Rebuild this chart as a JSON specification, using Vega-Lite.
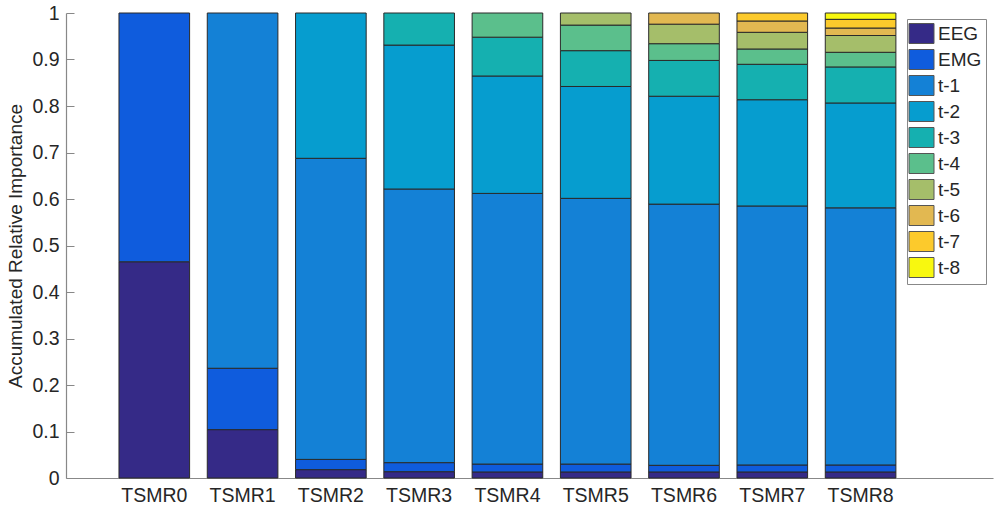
{
  "$schema": "https://vega.github.io/schema/vega-lite/v6.json",
  "width": 927,
  "height": 465,
  "autosize": {"type": "none"},
  "padding": {"left": 66, "top": 13, "right": 6, "bottom": 31},
  "background": "white",
  "data": {
    "values": [
      {"model": "TSMR0", "feature": "EEG", "importance": 0.465},
      {"model": "TSMR0", "feature": "EMG", "importance": 0.535},
      {"model": "TSMR1", "feature": "EEG", "importance": 0.104},
      {"model": "TSMR1", "feature": "EMG", "importance": 0.132},
      {"model": "TSMR1", "feature": "t-1", "importance": 0.764},
      {"model": "TSMR2", "feature": "EEG", "importance": 0.018},
      {"model": "TSMR2", "feature": "EMG", "importance": 0.022},
      {"model": "TSMR2", "feature": "t-1", "importance": 0.6475},
      {"model": "TSMR2", "feature": "t-2", "importance": 0.3125},
      {"model": "TSMR3", "feature": "EEG", "importance": 0.0136},
      {"model": "TSMR3", "feature": "EMG", "importance": 0.0194},
      {"model": "TSMR3", "feature": "t-1", "importance": 0.5885},
      {"model": "TSMR3", "feature": "t-2", "importance": 0.3095},
      {"model": "TSMR3", "feature": "t-3", "importance": 0.069},
      {"model": "TSMR4", "feature": "EEG", "importance": 0.013},
      {"model": "TSMR4", "feature": "EMG", "importance": 0.017},
      {"model": "TSMR4", "feature": "t-1", "importance": 0.582},
      {"model": "TSMR4", "feature": "t-2", "importance": 0.2525},
      {"model": "TSMR4", "feature": "t-3", "importance": 0.0835},
      {"model": "TSMR4", "feature": "t-4", "importance": 0.052},
      {"model": "TSMR5", "feature": "EEG", "importance": 0.013},
      {"model": "TSMR5", "feature": "EMG", "importance": 0.017},
      {"model": "TSMR5", "feature": "t-1", "importance": 0.5714},
      {"model": "TSMR5", "feature": "t-2", "importance": 0.2406},
      {"model": "TSMR5", "feature": "t-3", "importance": 0.077},
      {"model": "TSMR5", "feature": "t-4", "importance": 0.055},
      {"model": "TSMR5", "feature": "t-5", "importance": 0.026},
      {"model": "TSMR6", "feature": "EEG", "importance": 0.013},
      {"model": "TSMR6", "feature": "EMG", "importance": 0.0143},
      {"model": "TSMR6", "feature": "t-1", "importance": 0.5617},
      {"model": "TSMR6", "feature": "t-2", "importance": 0.232},
      {"model": "TSMR6", "feature": "t-3", "importance": 0.077},
      {"model": "TSMR6", "feature": "t-4", "importance": 0.036},
      {"model": "TSMR6", "feature": "t-5", "importance": 0.042},
      {"model": "TSMR6", "feature": "t-6", "importance": 0.024},
      {"model": "TSMR7", "feature": "EEG", "importance": 0.013},
      {"model": "TSMR7", "feature": "EMG", "importance": 0.015},
      {"model": "TSMR7", "feature": "t-1", "importance": 0.557},
      {"model": "TSMR7", "feature": "t-2", "importance": 0.2285},
      {"model": "TSMR7", "feature": "t-3", "importance": 0.0762},
      {"model": "TSMR7", "feature": "t-4", "importance": 0.0329},
      {"model": "TSMR7", "feature": "t-5", "importance": 0.0359},
      {"model": "TSMR7", "feature": "t-6", "importance": 0.0243},
      {"model": "TSMR7", "feature": "t-7", "importance": 0.0172},
      {"model": "TSMR8", "feature": "EEG", "importance": 0.013},
      {"model": "TSMR8", "feature": "EMG", "importance": 0.015},
      {"model": "TSMR8", "feature": "t-1", "importance": 0.553},
      {"model": "TSMR8", "feature": "t-2", "importance": 0.2255},
      {"model": "TSMR8", "feature": "t-3", "importance": 0.0775},
      {"model": "TSMR8", "feature": "t-4", "importance": 0.0315},
      {"model": "TSMR8", "feature": "t-5", "importance": 0.0361},
      {"model": "TSMR8", "feature": "t-6", "importance": 0.0161},
      {"model": "TSMR8", "feature": "t-7", "importance": 0.0187},
      {"model": "TSMR8", "feature": "t-8", "importance": 0.0136}
    ]
  },
  "mark": {"type": "bar", "stroke": "#2a2a2a", "strokeWidth": 1},
  "encoding": {
    "x": {
      "field": "model",
      "type": "nominal",
      "scale": {"paddingInner": 0.2, "paddingOuter": 0.85, "align": 0.353},
      "axis": {
        "title": null,
        "labelAngle": 0,
        "ticks": false,
        "labelPadding": 8,
        "labelFontSize": 19.5,
        "labelFont": "Liberation Sans",
        "labelColor": "#262626",
        "domainColor": "#888888",
        "domainWidth": 1.2
      }
    },
    "y": {
      "field": "importance",
      "type": "quantitative",
      "stack": "zero",
      "scale": {"domain": [0, 1], "nice": false},
      "axis": {
        "title": "Accumulated Relative Importance",
        "titleFont": "Liberation Sans",
        "titleFontSize": 19,
        "titleFontWeight": "normal",
        "titleColor": "#262626",
        "titlePadding": 6,
        "values": [0, 0.1, 0.2, 0.3, 0.4, 0.5, 0.6, 0.7, 0.8, 0.9, 1],
        "format": "~g",
        "grid": false,
        "tickSize": -8,
        "tickColor": "#888888",
        "labelPadding": 15,
        "labelFontSize": 19.5,
        "labelFont": "Liberation Sans",
        "labelColor": "#262626",
        "domainColor": "#888888",
        "domainWidth": 1.2
      }
    },
    "order": {"field": "feature", "type": "nominal", "sort": "ascending"},
    "color": {
      "field": "feature",
      "type": "nominal",
      "scale": {
        "domain": ["EEG", "EMG", "t-1", "t-2", "t-3", "t-4", "t-5", "t-6", "t-7", "t-8"],
        "range": ["#352a87", "#0f5cdd", "#1481d6", "#069dcf", "#15b0b0", "#5bbf8c", "#a5be6a", "#e2b851", "#fcca2c", "#f8f80f"]
      },
      "legend": {
        "title": null,
        "orient": "none",
        "legendX": 841,
        "legendY": 6,
        "padding": 4,
        "rowPadding": 1,
        "fillColor": "white",
        "strokeColor": "#888888",
        "symbolType": "M-1.25,-1L1.25,-1L1.25,1L-1.25,1Z",
        "symbolSize": 400,
        "symbolOpacity": 1,
        "symbolStrokeColor": "#555555",
        "symbolStrokeWidth": 1,
        "labelFont": "Liberation Sans",
        "labelFontSize": 19,
        "labelColor": "#262626",
        "labelOffset": 6
      }
    }
  },
  "config": {"view": {"stroke": null}}
}
